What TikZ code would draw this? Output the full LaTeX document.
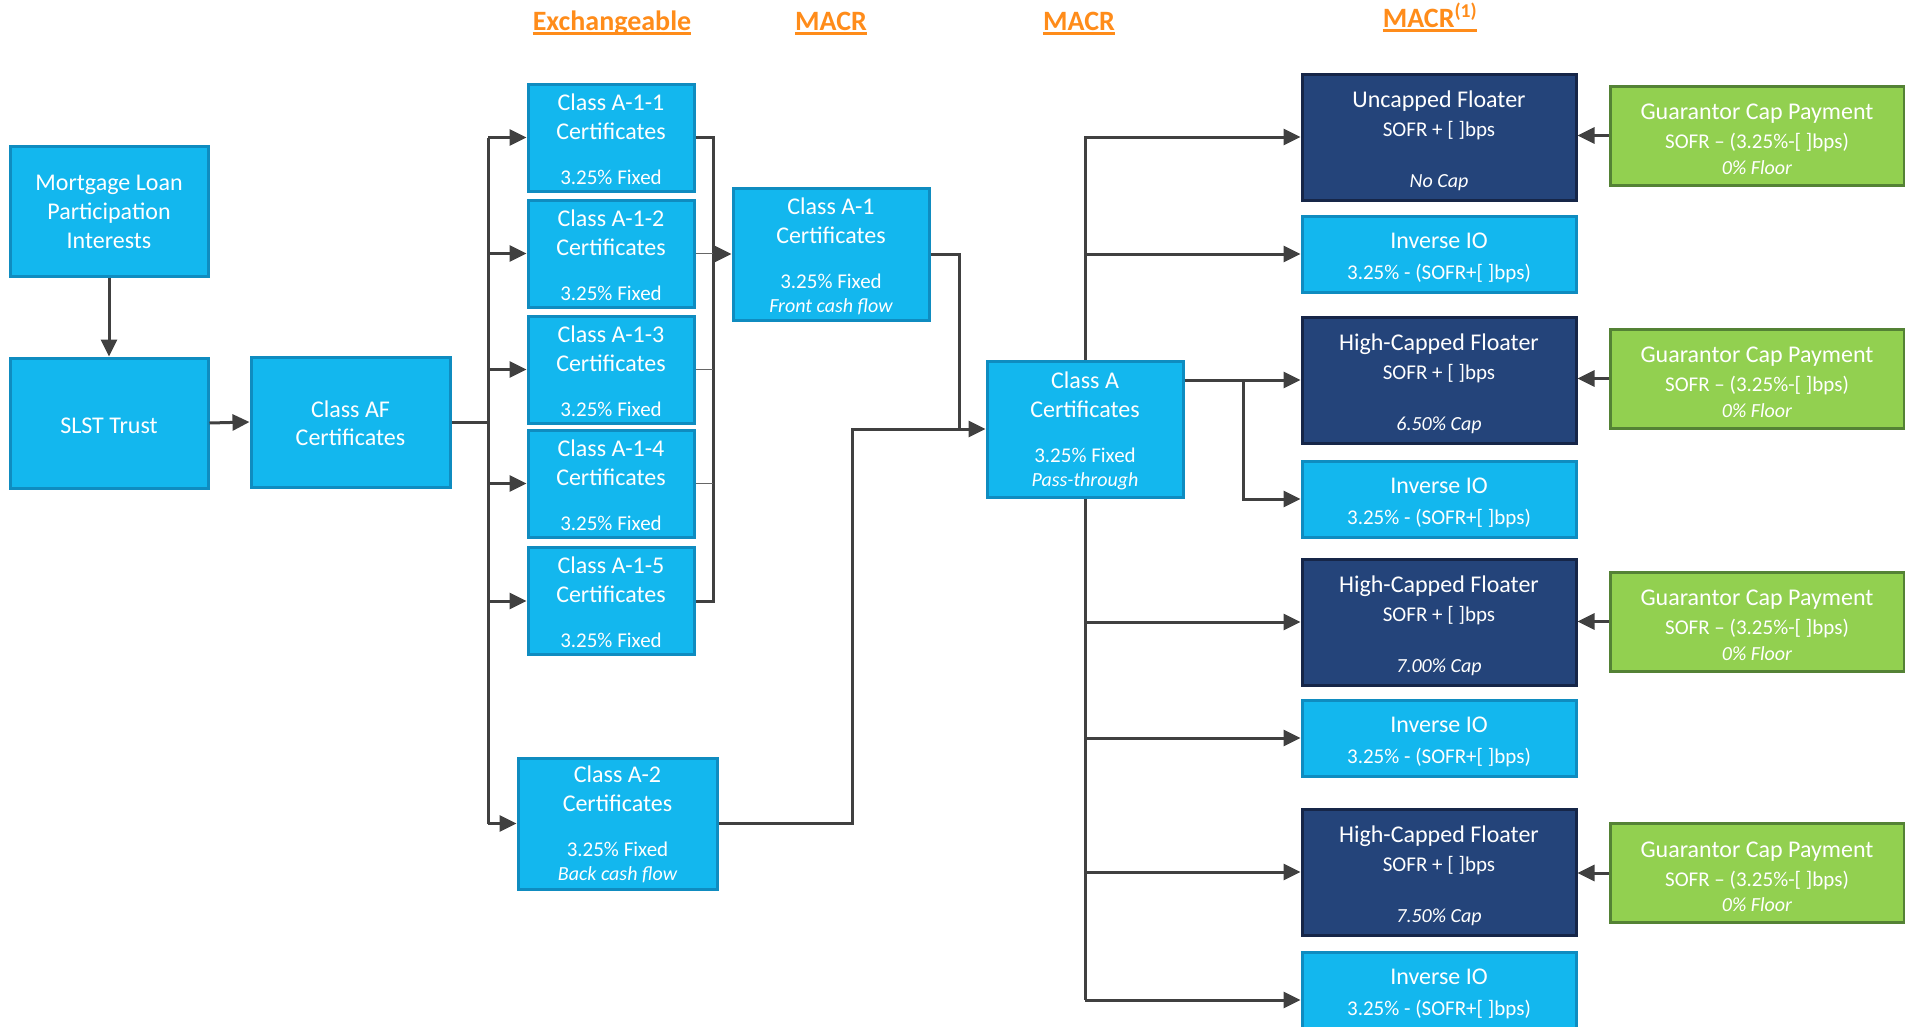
\documentclass[tikz,border=0pt]{standalone}
\usepackage{fontspec}
\setmainfont{Carlito}
\usetikzlibrary{arrows.meta}
\definecolor{lb}{RGB}{19,183,238}
\definecolor{lbd}{RGB}{15,140,192}
\definecolor{nb}{RGB}{36,68,122}
\definecolor{nbd}{RGB}{22,38,72}
\definecolor{gb}{RGB}{146,208,80}
\definecolor{gbd}{RGB}{84,130,53}
\definecolor{org}{RGB}{255,140,26}
\definecolor{lgr}{RGB}{64,64,64}
\newcommand\subt{\fontsize{21}{25}\selectfont}
\newcommand\itt{\fontsize{20}{24}\selectfont\itshape}
\newcommand\lft{\rule{0pt}{\lht}}
\begin{document}
\begin{tikzpicture}[x=1pt,y=-1pt,
  lift/.code={\def\lht{#1pt}},
  box/.style={draw=lbd,fill=lb,line width=3pt,text=white,align=center,inner sep=0pt,font=\fontsize{24}{29}\selectfont,lift=20},
  nbox/.style={box,draw=nbd,fill=nb,lift=24},
  gbox/.style={box,draw=gbd,fill=gb,lift=23},
  sz/.style 2 args={minimum width=#1pt,minimum height=#2pt},
  wire/.style={draw=lgr,line width=3pt},
  ar/.style={wire,-{Triangle[length=17pt,width=16pt]}},
  hd/.style={text=org,anchor=base,inner sep=0pt,font=\bfseries\fontsize{28}{32}\selectfont}]
\useasboundingbox (0,0) rectangle (1905,1026);
\node[hd] (hx) at (612,30) {Exchangeable};
\node[hd] (hm1) at (831,30) {MACR};
\node[hd] (hm2) at (1079,30) {MACR};
\node[hd] (hm3) at (1430,27) {MACR\textsuperscript{(1)}};
\foreach \h in {hx,hm1,hm2,hm3}
  \draw[draw=org,line width=3pt] ([yshift=-3.5pt]\h.base west) -- ([yshift=-3.5pt]\h.base east);
\node[box,sz={198}{130},lift=18] (mort) at (109,211) {\lft Mortgage Loan\\Participation\\Interests};
\node[box,sz={198}{130},lift=20.5] (slst) at (109,423) {\lft SLST Trust};
\node[box,sz={199}{130},lift=19] (af) at (350.5,422) {\lft Class AF\\[-1pt]Certificates};
\foreach \n/\y in {1/137.5,2/253.5,3/369.5,4/483.5,5/601}
  \node[box,sz={166}{107}] (c1\n) at (611,\y) {\lft Class A-1-\n\\Certificates\\[16pt]{\subt 3.25\% Fixed}};
\node[box,sz={199}{131},lift=19] (c2) at (617.5,823.5) {\lft Class A-2\\Certificates\\[16pt]{\subt 3.25\% Fixed}\\[-5pt]{\itt Back cash flow}};
\node[box,sz={196}{132},lift=21.5] (c1) at (831,254) {\lft Class A-1\\Certificates\\[16pt]{\subt 3.25\% Fixed}\\[-5pt]{\itt Front cash flow}};
\node[box,sz={196}{136}] (ca) at (1085,429) {\lft Class A\\Certificates\\[16pt]{\subt 3.25\% Fixed}\\[-5pt]{\itt Pass-through}};
\node[nbox,sz={274}{126}] (uf) at (1439,137) {\lft Uncapped Floater\\{\subt SOFR + [ ]bps}\\[22pt]{\itt No Cap}};
\foreach \n/\y/\c in {hc1/380/6.50,hc2/622/7.00,hc3/872/7.50}
  \node[nbox,sz={274}{126}] (\n) at (1439,\y) {\lft High-Capped Floater\\{\subt SOFR + [ ]bps}\\[22pt]{\itt \c\% Cap}};
\foreach \n/\y in {io1/254,io2/499,io3/738,io4/990}
  \node[box,sz={274}{76},lift=23] (\n) at (1439,\y) {\lft Inverse IO\\[2pt]{\subt 3.25\% - (SOFR+[ ]bps)}};
\foreach \n/\y in {g1/135.5,g2/378.5,g3/621.5,g4/873}
  \node[gbox,sz={294}{99}] (\n) at (1757,\y) {\lft Guarantor Cap Payment\\{\subt SOFR -- (3.25\%-[ ]bps)}\\[-3.5pt]{\itt 0\% Floor}};
\coordinate (s) at (488,422);
\coordinate (r) at (713,254);
\coordinate (m) at (959,429);
\coordinate (j) at (852,429);
\coordinate (k) at (1243,380);
\coordinate (q) at (1085,1000);
\draw[ar] (mort.south) -- (slst.north);
\draw[ar] (slst.east) -- (af.west);
\draw[wire] (af.east) -- (s);
\draw[wire] (s |- c11.west) -- (s |- c2.west);
\foreach \n in {c11,c12,c13,c14,c15,c2}
  \draw[ar] (s |- \n.west) -- (\n.west);
\draw[wire] (c11.east) -| (r |- c15.east) -- (c15.east);
\foreach \n in {c12,c13,c14}
  \draw[draw=lgr!80,line width=1pt] (\n.east) -- (r |- \n.east);
\draw[ar] (r) -- (c1.west);
\draw[wire] (c1.east) -| (m);
\draw[ar] (c2.east) -| (j) -- (ca.west);
\draw[ar] (ca.north) |- (uf.west);
\draw[ar] (ca.north |- io1.west) -- (io1.west);
\draw[ar] (ca.east |- hc1.west) -- (hc1.west);
\draw[ar] (k) |- (io2.west);
\draw[wire] (ca.south) -- (q);
\foreach \n in {hc2,io3,hc3}
  \draw[ar] (ca.south |- \n.west) -- (\n.west);
\draw[ar] (q) -- (q -| io4.west);
\foreach \g/\f in {g1/uf,g2/hc1,g3/hc2,g4/hc3}
  \draw[ar] (\g.west) -- (\g.west -| \f.east);
\end{tikzpicture}
\end{document}
